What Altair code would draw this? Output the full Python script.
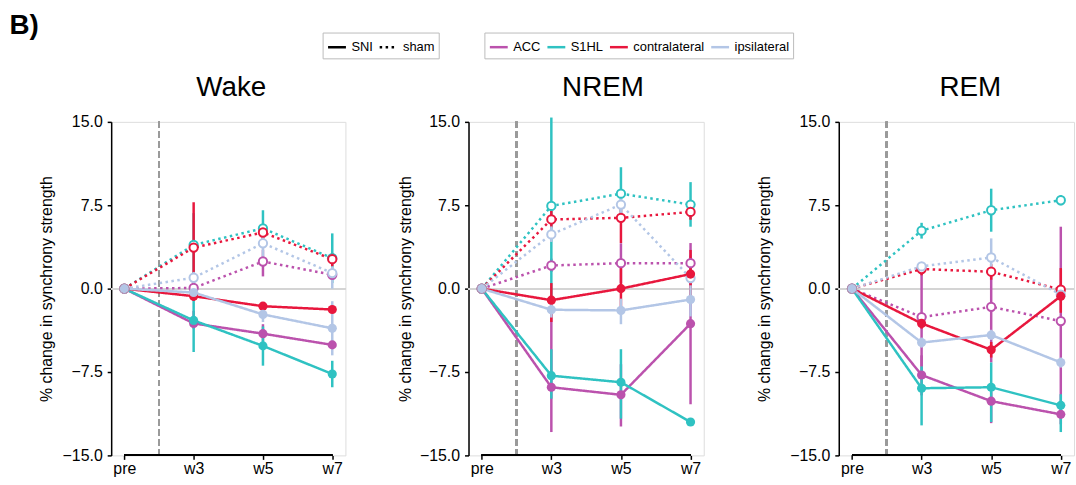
import altair as alt
import pandas as pd

# ---------------- data ----------------
TIMES = ["pre", "w3", "w5", "w7"]
REGIONS = ["ACC", "S1HL", "contralateral", "ipsilateral"]
COLORS = ["#bb52ad", "#2fc2c2", "#e8173d", "#b3c6e6"]
CONDITIONS = ["SNI", "sham"]
STATES = ["Wake", "NREM", "REM"]

# Wake
WAKE_SNI = {"ACC": [0, -3.13, -4.05, -5.06], "S1HL": [0, -2.86, -5.15, -7.68],
            "contralateral": [0, -0.68, -1.58, -1.88], "ipsilateral": [0, -0.35, -2.32, -3.57]}
WAKE_SNI_LO = {"ACC": [0, -3.6, -4.7, -5.4], "S1HL": [0, -5.7, -6.93, -8.87],
               "contralateral": [0, -1.1, -1.9, -2.2], "ipsilateral": [0, -0.8, -3.0, -6.0]}
WAKE_SNI_HI = {"ACC": [0, -2.0, -3.2, -4.7], "S1HL": [0, 0.0, -3.4, -6.49],
               "contralateral": [0, -0.3, -1.3, -1.6], "ipsilateral": [0, -0.1, -1.7, -1.13]}
WAKE_SHAM = {"ACC": [0, 0.06, 2.44, 1.25], "S1HL": [0, 3.93, 5.42, 2.74],
             "contralateral": [0, 3.69, 5.05, 2.65], "ipsilateral": [0, 0.98, 4.08, 1.4]}
WAKE_SHAM_LO = {"ACC": [0, -0.7, 1.1, 0.9], "S1HL": [0, 1.1, 3.8, 0.5],
                "contralateral": [0, -0.4, 4.2, 2.0], "ipsilateral": [0, 0.5, 2.3, 0.0]}
WAKE_SHAM_HI = {"ACC": [0, 0.5, 3.5, 1.6], "S1HL": [0, 6.79, 7.05, 4.97],
                "contralateral": [0, 7.77, 5.8, 3.2], "ipsilateral": [0, 1.5, 4.7, 2.0]}

# NREM
NREM_SNI = {"ACC": [0, -8.87, -9.55, -3.15], "S1HL": [0, -7.83, -8.42, -12.0],
            "contralateral": [0, -1.04, 0.0, 1.31], "ipsilateral": [0, -1.9, -1.96, -0.98]}
NREM_SNI_LO = {"ACC": [0, -12.9, -12.4, -10.4], "S1HL": [0, -9.9, -11.7, -12.2],
               "contralateral": [0, -3.0, -2.2, -0.98], "ipsilateral": [0, -2.6, -3.2, -2.5]}
NREM_SNI_HI = {"ACC": [0, -1.9, -6.8, 4.1], "S1HL": [0, -5.45, -5.45, -11.8],
               "contralateral": [0, 0.5, 1.9, 3.48], "ipsilateral": [0, -1.2, -0.9, 0.3]}
NREM_SHAM = {"ACC": [0, 2.08, 2.29, 2.29], "S1HL": [0, 7.44, 8.54, 7.56],
             "contralateral": [0, 6.22, 6.37, 6.9], "ipsilateral": [0, 4.88, 7.56, 0.95]}
NREM_SHAM_LO = {"ACC": [0, 1.5, 0.5, 1.5], "S1HL": [0, -1.0, 6.16, 5.57],
                "contralateral": [0, 5.5, 4.1, 6.2], "ipsilateral": [0, 4.2, 6.8, 0.3]}
NREM_SHAM_HI = {"ACC": [0, 2.7, 4.08, 3.0], "S1HL": [0, 15.39, 10.92, 9.58],
                "contralateral": [0, 7.0, 7.5, 7.5], "ipsilateral": [0, 5.6, 8.3, 1.6]}

# REM
REM_SNI = {"ACC": [0, -7.77, -10.12, -11.31], "S1HL": [0, -8.96, -8.87, -10.5],
           "contralateral": [0, -3.13, -5.5, -0.68], "ipsilateral": [0, -4.85, -4.17, -6.64]}
REM_SNI_LO = {"ACC": [0, -9.6, -12.1, -12.2], "S1HL": [0, -12.3, -12.0, -12.9],
              "contralateral": [0, -3.6, -6.2, -2.17], "ipsilateral": [0, -5.3, -4.6, -7.1]}
REM_SNI_HI = {"ACC": [0, -6.0, -9.3, -10.4], "S1HL": [0, -7.0, -6.64, -9.5],
              "contralateral": [0, -2.6, -4.8, 1.85], "ipsilateral": [0, -4.4, -3.7, -6.2]}
REM_SHAM = {"ACC": [0, -2.56, -1.64, -2.92], "S1HL": [0, 5.21, 7.05, 7.95],
            "contralateral": [0, 1.76, 1.52, -0.09], "ipsilateral": [0, 2.0, 2.8, -0.54]}
REM_SHAM_LO = {"ACC": [0, -7.0, -6.64, -10.8], "S1HL": [0, 4.5, 5.12, 7.5],
               "contralateral": [0, 1.2, 0.8, -0.6], "ipsilateral": [0, 1.5, 1.2, -0.9]}
REM_SHAM_HI = {"ACC": [0, 1.93, 1.1, 5.57], "S1HL": [0, 5.92, 8.99, 8.4],
               "contralateral": [0, 2.2, 2.2, 0.4], "ipsilateral": [0, 2.3, 4.52, -0.2]}

TABLES = {
    "Wake": {"SNI": (WAKE_SNI, WAKE_SNI_LO, WAKE_SNI_HI), "sham": (WAKE_SHAM, WAKE_SHAM_LO, WAKE_SHAM_HI)},
    "NREM": {"SNI": (NREM_SNI, NREM_SNI_LO, NREM_SNI_HI), "sham": (NREM_SHAM, NREM_SHAM_LO, NREM_SHAM_HI)},
    "REM": {"SNI": (REM_SNI, REM_SNI_LO, REM_SNI_HI), "sham": (REM_SHAM, REM_SHAM_LO, REM_SHAM_HI)},
}

rows = []
for st in STATES:
    for cond in ["sham", "SNI"]:
        mean, lo, hi = TABLES[st][cond]
        for reg in REGIONS:
            for t, lab in enumerate(TIMES):
                rows.append({"state": st, "condition": cond, "region": reg, "t": t,
                             "time": lab, "value": mean[reg][t], "lo": lo[reg][t], "hi": hi[reg][t]})
df = pd.DataFrame(rows)

FONT = "Liberation Sans"
label_expr = "[" + ",".join("'%s'" % s for s in TIMES) + "][datum.value]"

xscale = alt.Scale(domain=[-0.19, 3.19], nice=False, zero=False)
yscale = alt.Scale(domain=[-15, 15], nice=False, zero=False)

color = alt.Color("region:N", scale=alt.Scale(domain=REGIONS, range=COLORS),
                  legend=alt.Legend(title=None, orient="none", legendX=376, legendY=-90,
                                    direction="horizontal", columns=4, symbolType="stroke",
                                    symbolStrokeWidth=2.5, symbolSize=324, labelFontSize=13,
                                    labelFont=FONT, labelColor="black", strokeColor="#bbbbbb",
                                    padding=4, columnPadding=1, labelOffset=4))
dash = alt.StrokeDash("condition:N", scale=alt.Scale(domain=CONDITIONS, range=[[1, 0], [2.5, 3.5]]),
                      legend=alt.Legend(title=None, orient="none", legendX=213, legendY=-90,
                                        direction="horizontal", columns=2, symbolType="stroke",
                                        symbolStrokeColor="black", symbolStrokeWidth=2.5,
                                        symbolSize=324, labelFontSize=13, labelFont=FONT,
                                        labelColor="black", strokeColor="#bbbbbb", padding=4,
                                        columnPadding=1, labelOffset=4))

TITLE_DX = {"Wake": 3, "NREM": 17, "REM": 14}
TITLE_PAD = {"Wake": 7.5, "NREM": 5.5, "REM": 17.5}
WIDTH = {"Wake": 236, "NREM": 237, "REM": 237}


def panel(st):
    d = df[df.state == st]
    base = alt.Chart(d)
    x = alt.X("t:Q", scale=xscale,
              axis=alt.Axis(values=[0, 1, 2, 3], labelExpr=label_expr, title=None, domain=False,
                            grid=False, tickSize=4, tickColor="black", tickWidth=1.5,
                            labelFontSize=16, labelFont=FONT, labelColor="black", labelPadding=1))
    y = alt.Y("value:Q", scale=yscale,
              axis=alt.Axis(values=[-15, -7.5, 0, 7.5, 15], format=".1f",
                            title="% change in synchrony strength", titleFontSize=16,
                            titleFont=FONT, titleFontWeight="normal", titleColor="black",
                            titlePadding=TITLE_PAD[st], grid=False, domainColor="black",
                            domainWidth=1.5, tickSize=4, tickColor="black", tickWidth=1.5,
                            labelFontSize=16, labelFont=FONT, labelColor="black", labelPadding=5))
    zero = base.mark_rule(color="#d4d4d4", strokeWidth=1.5).encode(y=alt.datum(0))
    vline = base.mark_rule(color="#9a9a9a", strokeWidth=2, strokeDash=[6, 4]).encode(
        x=alt.datum(0.5), y=alt.datum(-15), y2=alt.datum(15))
    err = base.mark_rule(strokeWidth=2.5).encode(
        x=x, y=alt.Y("lo:Q", scale=yscale), y2="hi:Q", color=color)
    line = base.mark_line(strokeWidth=2.5).encode(
        x=x, y=y, color=color, strokeDash=dash, detail="condition:N")
    pts_sham = base.transform_filter(alt.datum.condition == "sham").mark_point(
        filled=False, fill="white", size=70, strokeWidth=2, opacity=1).encode(x=x, y=y, color=color)
    pts_sni = base.transform_filter(alt.datum.condition == "SNI").mark_circle(
        size=85, opacity=1).encode(x=x, y=y, color=color)
    xline = base.mark_rule(color="black", strokeWidth=1.2).encode(
        x=alt.datum(0), x2=alt.datum(3), y=alt.datum(-15))
    return alt.layer(zero, vline, err, line, pts_sham, pts_sni, xline).properties(
        width=WIDTH[st], height=336,
        title=alt.TitleParams(st, fontSize=28, font=FONT, fontWeight="normal", color="black",
                              offset=-10, baseline="alphabetic", dx=TITLE_DX[st]))


chart = alt.hconcat(*[panel(s) for s in STATES], spacing=50).properties(
    title=alt.TitleParams("B)", anchor="start", fontSize=28, font=FONT, fontWeight="bold",
                          color="black", dx=-29, offset=-30, baseline="alphabetic"),
    padding={"left": 9, "top": 10, "right": 0, "bottom": 0},
).configure_view(strokeWidth=0).configure(background="white")

chart.save("out.html", embed_options={"renderer": "svg", "actions": False})
